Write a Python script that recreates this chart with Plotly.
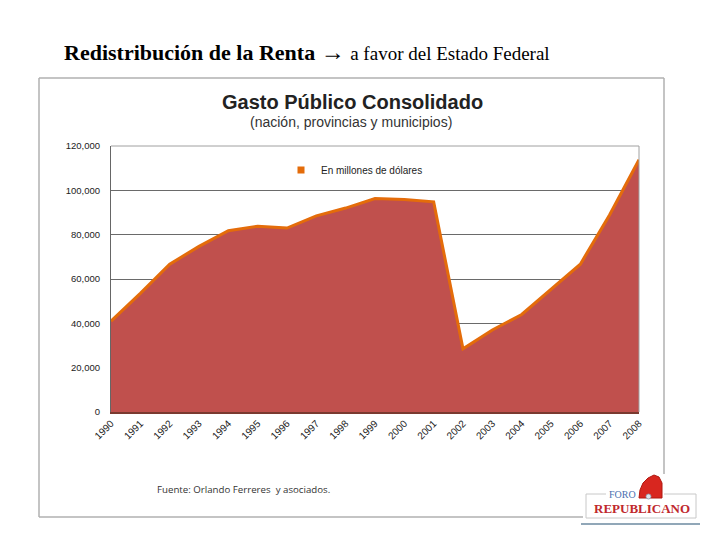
import plotly.graph_objects as go

years = list(range(1990, 2009))
gasto = [41000, 53500, 66700, 74700, 81800, 83800, 83000, 88500, 92000, 96300,
         95900, 94800, 28500, 37000, 44000, 55200, 66700, 89000, 113800]
y_ticks = [0, 20000, 40000, 60000, 80000, 100000, 120000]
y_ticktext = ["0", "20,000", "40,000", "60,000", "80,000", "100,000", "120,000"]
serie_nombre = "En millones de dólares"

OFF = 8  # browser body margin
W, H = 720 - OFF, 540 - OFF
L, R, T, B = 111, 639, 146, 412  # plot area in page pixels


def px(x):
    return (x - L) / (R - L)


def py(y):
    return (B - y) / (B - T)


fig = go.Figure()
fig.add_trace(go.Scatter(
    x=years, y=gasto, mode="lines", fill="tozeroy",
    fillcolor="#C0504D", line=dict(color="#E46C0A", width=3),
    showlegend=False, hoverinfo="x+y"))
fig.add_trace(go.Scatter(
    x=[None], y=[None], mode="markers", name=serie_nombre,
    marker=dict(symbol="square", color="#E46C0A", size=7)))

fig.update_layout(
    width=W, height=H,
    margin=dict(l=L - OFF, r=720 - R, t=T - OFF, b=540 - B),
    paper_bgcolor="white", plot_bgcolor="white",
    font=dict(family="Liberation Sans, Arial, sans-serif", color="#222"),
    legend=dict(x=px(281), y=py(170), xanchor="left", yanchor="middle",
                bgcolor="rgba(0,0,0,0)", font=dict(size=10, color="#222"),
                itemwidth=30, tracegroupgap=0),
    xaxis=dict(range=[1990, 2008], tickvals=years, ticktext=[str(y) for y in years],
               tickangle=-45, tickfont=dict(size=10, color="#222"),
               showgrid=False, showline=True, linecolor="#7a3a30", linewidth=1.5,
               ticks="", zeroline=False),
    yaxis=dict(range=[0, 120000], tickvals=y_ticks, ticktext=y_ticktext,
               tickfont=dict(size=9.5, color="#222"), showgrid=True,
               gridcolor="#6a6a6a", gridwidth=1, showline=True,
               linecolor="#666", linewidth=1, mirror=False, ticks="",
               ticklabelstandoff=8, zeroline=False),
)

shapes = []
# plot-area border (top and right)
shapes.append(dict(type="line", xref="paper", yref="paper", x0=0, x1=1, y0=1, y1=1,
                   line=dict(color="#a0a0a0", width=1)))
shapes.append(dict(type="line", xref="paper", yref="paper", x0=1, x1=1, y0=0, y1=1,
                   line=dict(color="#a0a0a0", width=1)))
# outer chart frame
frame = "#b0b0b0"
shapes.append(dict(type="line", xref="paper", yref="paper", x0=px(39), x1=px(664), y0=py(78), y1=py(78), line=dict(color=frame, width=1.5)))
shapes.append(dict(type="line", xref="paper", yref="paper", x0=px(39), x1=px(39), y0=py(78), y1=py(517), line=dict(color=frame, width=1.5)))
shapes.append(dict(type="line", xref="paper", yref="paper", x0=px(39), x1=px(583), y0=py(517), y1=py(517), line=dict(color=frame, width=1.5)))
shapes.append(dict(type="line", xref="paper", yref="paper", x0=px(664), x1=px(664), y0=py(78), y1=py(474), line=dict(color=frame, width=1.5)))
# logo box
lb = "#c8c8c8"
shapes.append(dict(type="line", xref="paper", yref="paper", x0=px(586), x1=px(606), y0=py(494), y1=py(494), line=dict(color=lb, width=1)))
shapes.append(dict(type="line", xref="paper", yref="paper", x0=px(664), x1=px(696), y0=py(494), y1=py(494), line=dict(color=lb, width=1)))
shapes.append(dict(type="line", xref="paper", yref="paper", x0=px(586), x1=px(586), y0=py(494), y1=py(518), line=dict(color=lb, width=1)))
shapes.append(dict(type="line", xref="paper", yref="paper", x0=px(696), x1=px(696), y0=py(494), y1=py(518), line=dict(color=lb, width=1)))
shapes.append(dict(type="line", xref="paper", yref="paper", x0=px(586), x1=px(696), y0=py(518), y1=py(518), line=dict(color=lb, width=1)))
shapes.append(dict(type="line", xref="paper", yref="paper", x0=px(581), x1=px(700), y0=py(524), y1=py(524), line=dict(color="#6d8aa0", width=1.5)))
# cap (gorro frigio)
pts = [(639, 498), (640, 490), (643, 483), (648, 478), (654, 475), (659, 477), (662, 483), (662, 498)]
path = "M " + " L ".join(f"{px(a)},{py(b)}" for a, b in pts) + " Z"
shapes.append(dict(type="path", xref="paper", yref="paper", path=path,
                   fillcolor="#d8261f", line=dict(color="#b01810", width=1)))
shapes.append(dict(type="circle", xref="paper", yref="paper", x0=px(646), x1=px(651), y0=py(499), y1=py(494),
                   fillcolor="#dde3ea", line=dict(color="#8899aa", width=0.8)))
fig.update_layout(shapes=shapes)

ann = []
ann.append(dict(x=px(62), y=py(52), xref="paper", yref="paper", xanchor="left", yanchor="middle",
                showarrow=False,
                text="<b>Redistribución de la Renta</b> <span style='font-size:24px'>→</span> <span style='font-size:19px'>a favor del Estado Federal</span>",
                font=dict(family="Liberation Serif, Times New Roman, serif", size=22, color="#000")))
ann.append(dict(x=px(352), y=py(102), xref="paper", yref="paper", xanchor="center", yanchor="middle",
                showarrow=False, text="<b>Gasto Público Consolidado</b>",
                font=dict(family="Liberation Sans, Arial, sans-serif", size=20, color="#222")))
ann.append(dict(x=px(351), y=py(122), xref="paper", yref="paper", xanchor="center", yanchor="middle",
                showarrow=False, text="(nación, provincias y municipios)",
                font=dict(family="Liberation Sans, Arial, sans-serif", size=14, color="#333")))
ann.append(dict(x=px(155), y=py(489), xref="paper", yref="paper", xanchor="left", yanchor="middle",
                showarrow=False, text="Fuente: Orlando Ferreres  y asociados.",
                font=dict(family="Open Sans, Liberation Sans, sans-serif", size=9.7, color="#333")))
ann.append(dict(x=px(622), y=py(494), xref="paper", yref="paper", xanchor="center", yanchor="middle",
                showarrow=False, text="FORO",
                font=dict(family="Liberation Serif, serif", size=10, color="#4a6fb0")))
ann.append(dict(x=px(642), y=py(508), xref="paper", yref="paper", xanchor="center", yanchor="middle",
                showarrow=False, text="<b>REPUBLICANO</b>",
                font=dict(family="Liberation Serif, serif", size=13, color="#c0282d")))
fig.update_layout(annotations=ann)

fig.write_html("out.html")
